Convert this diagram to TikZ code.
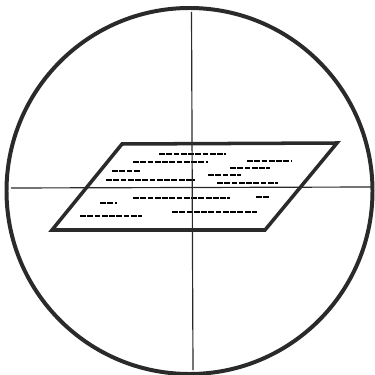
\documentclass[tikz,border=0pt]{standalone}
\usetikzlibrary{calc}
\definecolor{inkgray}{HTML}{2A2A2A}

\begin{document}
\begin{tikzpicture}[x=0.03cm, y=-0.03cm,
  rim/.style={draw=inkgray, line width=3.4pt},
  hair/.style={draw=inkgray, line width=1pt},
  sheet/.style={draw=inkgray, fill=white, line width=3pt, line join=miter},
  textbar/.style={draw=black, line width=1.8pt, dash pattern=on 5pt off 1.2pt}]
\useasboundingbox (0,0) rectangle (375,374);
% lens outline
\coordinate (centre) at (189.5,191);
\draw[rim] (centre) circle[x radius=183, y radius=-183];
% the sheet lying in the field
\coordinate (tl) at (122,144);
\coordinate (tr) at (337,143);
\coordinate (br) at (265,230);
\coordinate (bl) at (52,230);
\draw[sheet] (tl) -- (tr) -- (br) -- (bl) -- cycle;
% lines of type on the sheet
\foreach \xa/\xb/\y in {159/226/154, 133/208/162, 247/292/161, 112/140/171,
    230/270/168, 208/241/175, 106/195/180, 217/278/183, 133/230/198,
    256/269/197, 100/117/203, 172/257/212, 80/142/216}
  \draw[textbar] (\xa,\y) -- (\xb,\y);
% cross hairs
\coordinate (top) at (191.5,12);
\coordinate (bottom) at (193,370);
\coordinate (left) at (11,188);
\coordinate (right) at (371,187);
\draw[hair] (top) -- (bottom);
\draw[hair] (left) -- (right);
\end{tikzpicture}
\end{document}
